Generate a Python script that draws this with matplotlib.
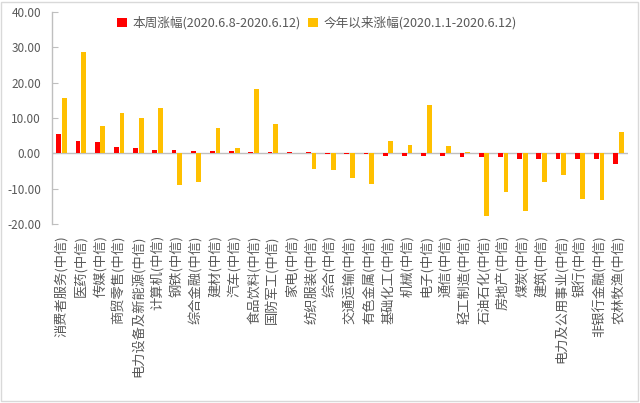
import matplotlib
matplotlib.use("Agg")
import matplotlib.pyplot as plt
import numpy as np
from matplotlib.patches import Rectangle

plt.rcParams['font.family'] = ['Noto Sans CJK SC', 'DejaVu Sans']

categories = ["消费者服务(中信)", "医药(中信)", "传媒(中信)", "商贸零售(中信)", "电力设备及新能源(中信)",
              "计算机(中信)", "钢铁(中信)", "综合金融(中信)", "建材(中信)", "汽车(中信)",
              "食品饮料(中信)", "国防军工(中信)", "家电(中信)", "纺织服装(中信)", "综合(中信)",
              "交通运输(中信)", "有色金属(中信)", "基础化工(中信)", "机械(中信)", "电子(中信)",
              "通信(中信)", "轻工制造(中信)", "石油石化(中信)", "房地产(中信)", "煤炭(中信)",
              "建筑(中信)", "电力及公用事业(中信)", "银行(中信)", "非银行金融(中信)", "农林牧渔(中信)"]

week_change = [5.6, 3.6, 3.3, 1.8, 1.5, 0.95, 0.95, 0.66, 0.66, 0.66,
               0.4, 0.4, 0.35, 0.35, -0.3, -0.2, -0.2, -0.65, -0.65, -0.65,
               -0.65, -0.95, -0.95, -0.95, -1.5, -1.5, -1.5, -1.5, -1.5, -3.0]

ytd_change = [15.8, 28.7, 7.7, 11.3, 10.0, 12.8, -9.1, -8.0, 7.2, 1.4,
              18.1, 8.2, 0.2, -4.5, -4.7, -7.1, -8.6, 3.5, 2.4, 13.7,
              2.2, 0.3, -17.6, -11.0, -16.2, -8.0, -6.1, -12.9, -13.2, 6.0]

series_names = ["本周涨幅(2020.6.8-2020.6.12)", "今年以来涨幅(2020.1.1-2020.6.12)"]
yticks = [40, 30, 20, 10, 0, -10, -20]

red = "#FF0000"
gold = "#FFC000"
axis_gray = "#BFBFBF"
text_gray = "#595959"

fig = plt.figure(figsize=(6.4, 4.03), dpi=100)
ax = fig.add_axes([52/640, 1-224/403, 576/640, 212/403])

x = np.arange(len(categories))
w = 0.25
ax.bar(x - 0.15, week_change, width=w, color=red, label=series_names[0], zorder=3)
ax.bar(x + 0.15, ytd_change, width=w, color=gold, label=series_names[1], zorder=3)

ax.set_xlim(-0.5, len(categories) - 0.5)
ax.set_ylim(-20, 40)
ax.set_yticks(yticks)
ax.set_yticklabels([f"{v:.2f}" for v in yticks])
ax.axhline(0, color=axis_gray, lw=1, zorder=2)

for s in ['top', 'right', 'bottom']:
    ax.spines[s].set_visible(False)
ax.spines['left'].set_color(axis_gray)
ax.spines['left'].set_linewidth(1)

ax.tick_params(axis='y', direction='in', length=4, color=axis_gray, labelcolor=text_gray,
               labelsize=8.5, pad=8)
ax.set_xticks(x)
ax.set_xticklabels(categories, rotation=90, fontsize=9.5, color=text_gray, va='top', ha='center')
ax.tick_params(axis='x', length=0, pad=8)

fig.legend(loc='center left', bbox_to_anchor=(117/640, 1-23/403), ncol=2, frameon=False,
           fontsize=9.1, handlelength=0.8, handleheight=0.8, handletextpad=0.4,
           columnspacing=0.6, labelcolor=text_gray, borderaxespad=0, borderpad=0)

fig.patches.append(Rectangle((0.002, 0.004), 0.995, 0.992, transform=fig.transFigure,
                             fill=False, edgecolor="#D9D9D9", lw=1))

fig.savefig("out.png", dpi=100)
